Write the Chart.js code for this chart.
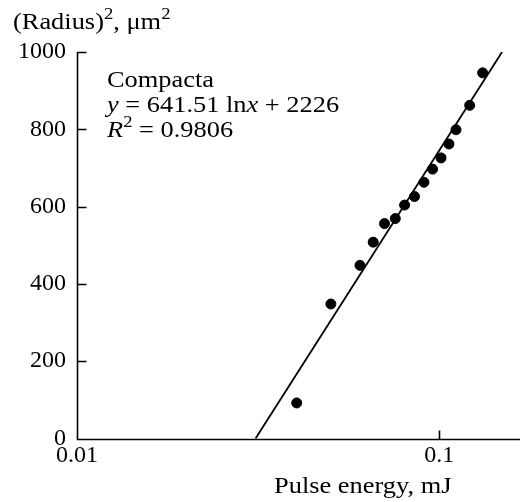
<!DOCTYPE html>
<html lang="en">
<head>
  <meta charset="UTF-8">
  <title>Compacta - radius squared vs pulse energy</title>
  <script src="https://cdn.jsdelivr.net/npm/chart.js"></script>
  <style>
    body { margin: 0; background: #fff; }
  </style>
</head>
<body>
  <canvas id="radiusChart" width="520" height="502"></canvas>

  <script>
    // measured points (pulse energy in mJ, radius^2 in um^2)
    const energy = [0.0404, 0.0502, 0.0604, 0.0657, 0.0706, 0.0756, 0.0802, 0.0854,
                    0.0907, 0.0958, 0.1011, 0.1063, 0.1112, 0.1213, 0.1317];
    const radiusSq = [92, 348, 448, 508, 556, 569, 604, 626, 663, 697, 726, 762, 799, 862, 946];

    // regression line ends, as drawn
    const fitEnergy = [0.0311, 0.149];
    const fitRadiusSq = [0, 1000];

    const xTicks = [0.01, 0.1];
    const yTicks = [0, 200, 400, 600, 800, 1000];

    const FONT = '"Liberation Serif", "Times New Roman", serif';
    const TICK_SIZE = 24;
    const SIZE = 24;
    const STRETCH = 1.1; // the original type is a little wider than Liberation Serif

    // draws a line of text made of runs: {t, it, sup}
    function drawRuns(ctx, x, y, runs) {
      ctx.save();
      ctx.translate(x, y);
      ctx.scale(STRETCH, 1);
      let cx = 0;
      runs.forEach(r => {
        const size = r.sup ? Math.round(SIZE * 0.7) : SIZE;
        ctx.font = (r.it ? 'italic ' : '') + size + 'px ' + FONT;
        ctx.fillText(r.t, cx, r.sup ? -SIZE * 0.42 : 0);
        cx += ctx.measureText(r.t).width;
      });
      ctx.restore();
    }

    const textPlugin = {
      id: 'texts',
      afterDraw(chart) {
        const ctx = chart.ctx;
        const xs = chart.scales.x, ys = chart.scales.y;
        ctx.save();
        ctx.fillStyle = '#000';
        ctx.strokeStyle = '#000';
        ctx.textAlign = 'left';
        ctx.textBaseline = 'alphabetic';

        // axes with inward ticks
        const left = Math.round(xs.left) + 0.5;
        const bottom = Math.round(ys.bottom) + 0.5;
        ctx.lineWidth = 1.6;
        ctx.beginPath();
        ctx.moveTo(left, Math.round(ys.top));
        ctx.lineTo(left, bottom);
        ctx.lineTo(xs.right, bottom);
        yTicks.forEach(v => {
          if (v === 0) return;
          const py = Math.round(ys.getPixelForValue(v)) + 0.5;
          ctx.moveTo(left, py);
          ctx.lineTo(left + 9, py);
        });
        xTicks.forEach(v => {
          if (v === xs.min) return;
          const px = Math.round(xs.getPixelForValue(v)) + 0.5;
          ctx.moveTo(px, bottom);
          ctx.lineTo(px, bottom - 9);
        });
        ctx.stroke();

        // axis titles
        drawRuns(ctx, 13, 29, [{t: '(Radius)'}, {t: '2', sup: true}, {t: ', \u03bcm'}, {t: '2', sup: true}]);
        drawRuns(ctx, 274, 493, [{t: 'Pulse energy, mJ'}]);

        // legend / fit text
        drawRuns(ctx, 107, 87, [{t: 'Compacta'}]);
        drawRuns(ctx, 107, 112, [{t: 'y', it: true}, {t: ' = 641.51 ln'}, {t: 'x', it: true}, {t: ' + 2226'}]);
        drawRuns(ctx, 107, 137, [{t: 'R', it: true}, {t: '2', sup: true}, {t: ' = 0.9806'}]);
        ctx.restore();
      }
    };

    const ctx = document.getElementById('radiusChart').getContext('2d');
    new Chart(ctx, {
      type: 'scatter',
      data: {
        datasets: [{
          label: 'Compacta',
          data: energy.map((e, i) => ({x: e, y: radiusSq[i]})),
          backgroundColor: '#000',
          borderColor: '#000',
          pointRadius: 5,
          pointHoverRadius: 5
        }, {
          label: 'fit',
          type: 'line',
          data: fitEnergy.map((e, i) => ({x: e, y: fitRadiusSq[i]})),
          borderColor: '#000',
          borderWidth: 1.8,
          pointRadius: 0,
          fill: false
        }]
      },
      options: {
        responsive: false,
        animation: false,
        layout: { autoPadding: false, padding: { top: 52, right: 0, bottom: 0, left: 0 } },
        plugins: {
          legend: { display: false },
          tooltip: { enabled: false }
        },
        scales: {
          x: {
            type: 'logarithmic',
            min: 0.01,
            max: 0.167,
            afterBuildTicks: s => { s.ticks = xTicks.map(v => ({value: v})); },
            afterFit: s => { s.height = 63.5; s.paddingLeft = 0; s.paddingRight = 0; },
            ticks: {
              color: '#000',
              font: { family: FONT, size: TICK_SIZE },
              padding: 3,
              maxRotation: 0,
              callback: v => String(v)
            },
            grid: { display: false, drawTicks: false },
            border: { display: false }
          },
          y: {
            min: 0,
            max: 1000,
            afterBuildTicks: s => { s.ticks = yTicks.map(v => ({value: v})); },
            afterFit: s => { s.width = 77; s.paddingTop = 0; s.paddingBottom = 0; },
            ticks: {
              color: '#000',
              font: { family: FONT, size: TICK_SIZE },
              padding: 11,
              callback: v => String(v)
            },
            grid: { display: false, drawTicks: false },
            border: { display: false }
          }
        }
      },
      plugins: [textPlugin]
    });
  </script>
</body>
</html>
